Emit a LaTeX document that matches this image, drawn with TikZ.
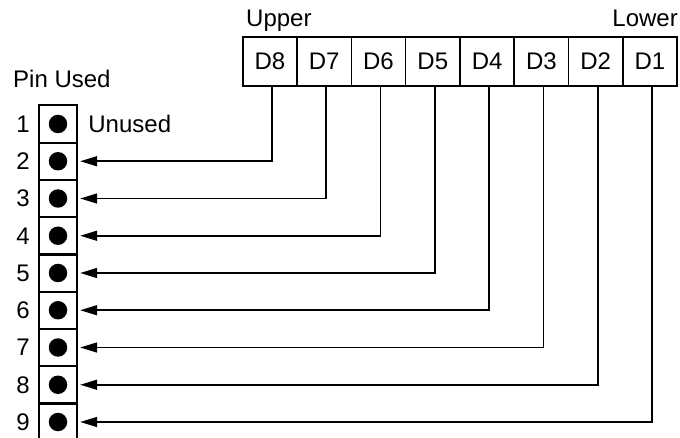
\documentclass[tikz,border=0pt]{standalone}
\usepackage{fontspec}
\setmainfont{Liberation Sans}
\usetikzlibrary{positioning,arrows.meta,calc}

\begin{document}
\begin{tikzpicture}
	[x=1pt,y=-1pt,
	dbox/.style={rectangle,draw=black,line width=1.6pt,minimum width=54.3pt,minimum height=49pt,inner sep=0pt},
	pcell/.style={rectangle,minimum width=38pt,minimum height=37.25pt,inner sep=0pt},
	pdot/.style={circle,fill=black,inner sep=0pt,minimum size=18.5pt},
	wire/.style={line width=1.6pt,-{Triangle[length=17pt,width=10pt]}},
	font=\fontsize{24}{28}\selectfont]
	\useasboundingbox (0,0) rectangle (680,438);
	%REGISTER
	\foreach \i in {1,...,8}
	\node[dbox] (d\i) at (704.3-54.3*\i,61.5) {D\i};
	\node[anchor=base west,inner sep=0pt] (upper) at (246,27) {Upper};
	\node[anchor=base east,inner sep=0pt] (lower) at (678,27) {Lower};
	%PINS
	\node[anchor=base west,inner sep=0pt] (pinused) at (13,88) {Pin Used};
	\foreach \j in {1,...,9}
	{
		\node[pcell] (c\j) at (58,124+37.25*\j-37.25) {};
		\node[pdot] (p\j) at (c\j) {};
		\node[inner sep=0pt,left=9pt of c\j] (n\j) {\j};
	};
	\node[inner sep=0pt,right=11pt of c1] (unused) {Unused};
	\draw[line width=1.6pt] (c9.south west) -- (c1.north west) -- (c1.north east) -- (c9.south east);
	\foreach \j in {1,...,8}
	\draw[line width=2.2pt] (c\j.south west) -- (c\j.south east);
	%WIRES
	\foreach \i in {1,...,8}
	{
		\pgfmathtruncatemacro{\j}{10-\i}
		\draw[wire] ([xshift=2pt]d\i.south) |- ([xshift=3pt]c\j.east);
	};
\end{tikzpicture}
\end{document}
